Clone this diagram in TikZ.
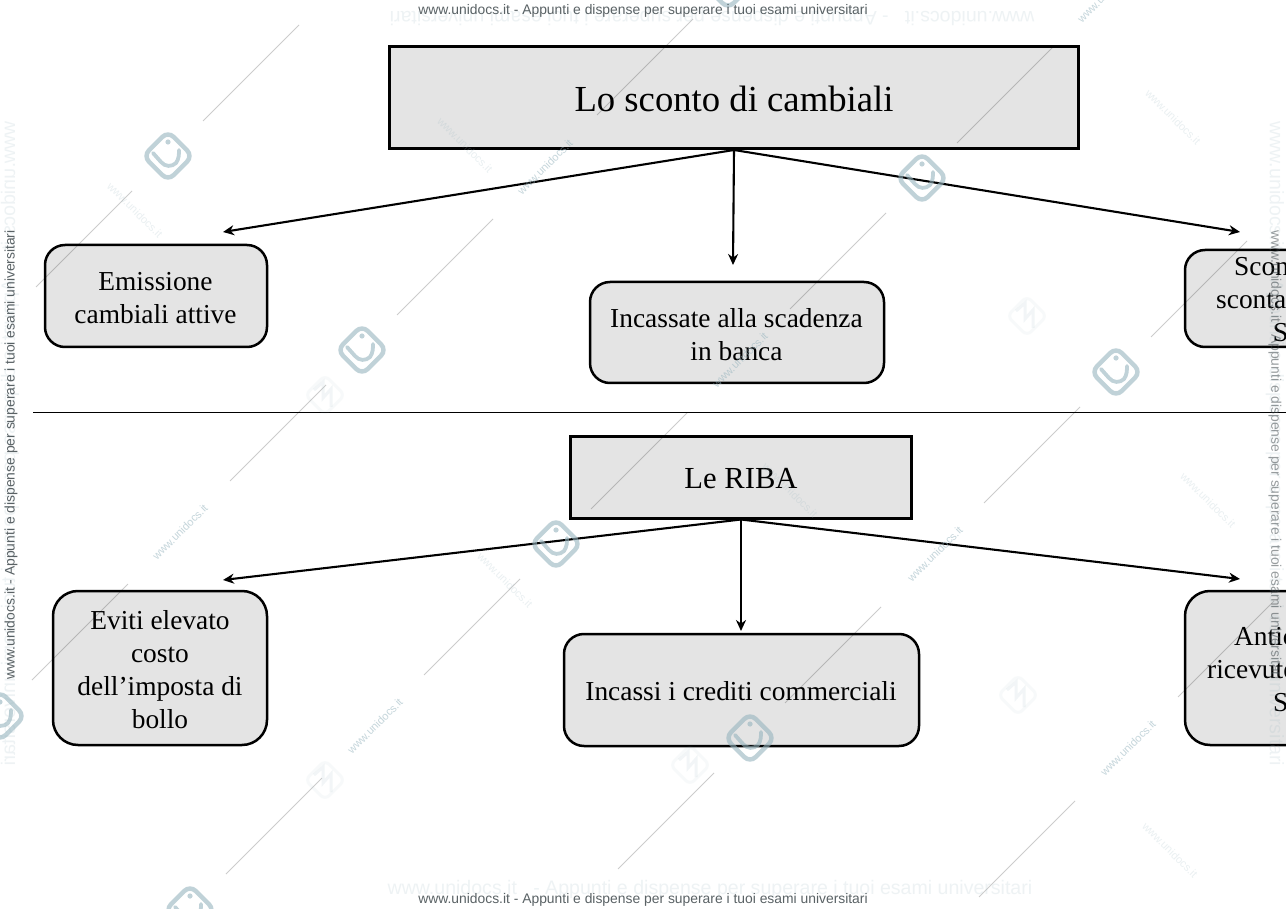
\documentclass[tikz,border=0pt]{standalone}
\usepackage{fontspec}
\setmainfont{Liberation Serif}
\newfontfamily\wmfont{Liberation Sans}
\usetikzlibrary{arrows.meta}
\definecolor{boxfill}{RGB}{228,228,228}
\definecolor{wmlogo}{RGB}{150,180,190}
\tikzset{
  headbox/.style={draw=black,line width=3pt,fill=boxfill,inner sep=0pt},
  roundbox/.style={draw=black,line width=2.5pt,fill=boxfill,rounded corners=20pt},
  tallbox/.style={roundbox,rounded corners=25pt},
  label/.style={font=\fontsize{27.4}{33}\selectfont,align=center,text=black,inner sep=0pt},
  link/.style={draw=black,line width=2.1pt,-{Stealth[length=11pt,width=10pt]}},
  wmline/.style={draw=black,opacity=.2,line width=1pt},
  wmtext/.style={font=\wmfont\fontsize{13.87}{16}\selectfont,text=black!45!wmlogo!60!black,text opacity=.8,inner sep=0pt},
  wmghost/.style={font=\wmfont\fontsize{19.56}{22}\selectfont,text=wmlogo,text opacity=.16,inner sep=0pt},
  wmdiag/.style={font=\wmfont\fontsize{11}{13}\selectfont,text=wmlogo,text opacity=.55,inner sep=0pt,rotate=45},
  wmfaint/.style={font=\wmfont\fontsize{11}{13}\selectfont,text=wmlogo,text opacity=.2,inner sep=0pt,rotate=-45},
  wmring/.style={draw=wmlogo,opacity=.6,line width=4.5pt,rounded corners=8pt,rotate=45},
  wmstroke/.style={draw=wmlogo,opacity=.6,line width=3.8pt,line cap=round},
  wmpale/.style={draw=wmlogo,opacity=.07,line width=3pt,rounded corners=6pt,rotate=45},
  wmpalemark/.style={draw=wmlogo,opacity=.12,line width=3pt},
}
\newcommand{\wmlogomark}[2]{%
  \begin{scope}[shift={(#1,#2)}]
    \draw[wmring] (-17.5,-17.5) rectangle (17.5,17.5);
    \draw[wmstroke] (-15,-3) -- (-7,6) .. controls (-3,11) and (4,11) .. (8,7) .. controls (11,3) and (11,-2) .. (11,-6);
    \fill[wmlogo,opacity=.6] (0,-14) circle (2.6pt);
  \end{scope}}
\newcommand{\wmpalelogo}[2]{%
  \begin{scope}[shift={(#1,#2)}]
    \draw[wmpale] (-14,-14) rectangle (14,14);
    \draw[wmpalemark] (-11,-5) -- (-2,-13) -- (-2,3) -- (6,-6) -- (6,12);
  \end{scope}}
\begin{document}
\begin{tikzpicture}[x=1pt,y=-1pt]
\useasboundingbox (0,0) rectangle (1286,909);
\begin{scope}
\clip (0,0) rectangle (1286,909);
\fill[white] (0,0) rectangle (1286,909);
% separator
\coordinate (sepL) at (33,412);
\coordinate (sepR) at (1286,412);
\draw[black,line width=.9pt] (sepL) -- (sepR);
% top tree
\node[headbox,minimum width=689pt,minimum height=102pt] (title) at (734,97.5) {};
\node[label,font=\fontsize{36.7}{40}\selectfont] (titletext) at (734,99) {Lo sconto di cambiali};
\draw[roundbox] (45,245) rectangle (267,347);
\node[label] (emiss) at (155.5,298.5) {Emissione\\cambiali attive};
\draw[roundbox] (590,282) rectangle (884,383);
\node[label] (incass) at (736.5,334.5) {Incassate alla scadenza\\in banca};
\draw[roundbox] (1185,250) rectangle (1420,347);
\node[label,anchor=base west] (scon) at (1234,275.5) {Scon};
\node[label,anchor=base west] (sconta) at (1216,308.5) {sconta};
\node[label,anchor=base west] (scons) at (1273,341.5) {S};
\coordinate (t1) at (223,232);
\coordinate (t2) at (733,265);
\coordinate (t3) at (1240,232);
\draw[link] (title.south) -- (t1);
\draw[link] (title.south) -- (t2);
\draw[link] (title.south) -- (t3);
% bottom tree
\node[headbox,minimum width=341pt,minimum height=82pt] (riba) at (741,477) {};
\node[label,font=\fontsize{30.6}{36}\selectfont] (ribatext) at (741,479) {Le RIBA};
\draw[tallbox] (53,591) rectangle (267,745);
\node[label] (eviti) at (160,670) {Eviti elevato\\costo\\dell’imposta di\\bollo};
\draw[roundbox] (564,634) rectangle (919,746);
\node[label] (crediti) at (741,691) {Incassi i crediti commerciali};
\draw[tallbox] (1185,591) rectangle (1420,745);
\node[label,anchor=base west] (antic) at (1234,645) {Antic};
\node[label,anchor=base west] (ricev) at (1207,678) {ricevute};
\node[label,anchor=base west] (antis) at (1273,711) {S};
\coordinate (r1) at (223,580);
\coordinate (r2) at (741,631);
\coordinate (r3) at (1240,579);
\draw[link] (riba.south) -- (r1);
\draw[link] (riba.south) -- (r2);
\draw[link] (riba.south) -- (r3);
% watermark, printed over the diagram
\foreach \px/\py in {203/121,397/315,591/509,785/703,979/897,36/287,230/481,424/675,618/869,957/143,1151/337,790/309,984/503,1178/697,597/115,32/680,226/874}{
  \draw[wmline] (\px,\py) -- ++(96,-96);
}
\foreach \px/\py in {168/156,362/350,556/544,750/738,922/178,1116/372,0/716,190/910,728/-16}{
  \wmlogomark{\px}{\py}
}
\foreach \px/\py in {1027/316,325/395,1018/695,690/765,325/780}{
  \wmpalelogo{\px}{\py}
}
\foreach \px/\py in {545/167,740/360,935/554,1128/748,180/532,375/726,351/-27,1105/-5}{
  \node[wmdiag] at (\px,\py) {www.unidocs.it};
}
\foreach \px/\py in {465/145,1173/117,1208/500,505/580,135/210,1170/850,790/490}{
  \node[wmfaint] at (\px,\py) {www.unidocs.it};
}
\node[wmghost,rotate=180] (ghosttop) at (712,17) {www.unidocs.it \ \ - Appunti e dispense per superare i tuoi esami universitari};
\node[wmghost] (ghostbottom) at (710,889) {www.unidocs.it \ \ - Appunti e dispense per superare i tuoi esami universitari};
\node[wmghost,rotate=-90,yscale=-1] (ghostleft) at (10,444) {www.unidocs.it \ \ - Appunti e dispense per superare i tuoi esami universitari};
\node[wmghost,rotate=-90] (ghostright) at (1275,444) {www.unidocs.it \ \ - Appunti e dispense per superare i tuoi esami universitari};
\node[wmtext] (marktop) at (643,11) {www.unidocs.it - Appunti e dispense per superare i tuoi esami universitari};
\node[wmtext] (markbottom) at (643,900) {www.unidocs.it - Appunti e dispense per superare i tuoi esami universitari};
\node[wmtext,rotate=90] (markleft) at (11,455) {www.unidocs.it - Appunti e dispense per superare i tuoi esami universitari};
\node[wmtext,rotate=-90,text opacity=.5] (markright) at (1275,455) {www.unidocs.it - Appunti e dispense per superare i tuoi esami universitari};
\end{scope}
\end{tikzpicture}
\end{document}
